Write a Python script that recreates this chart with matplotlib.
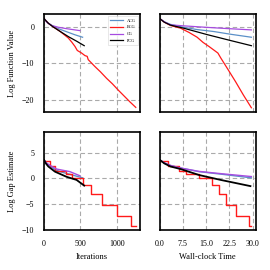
import matplotlib
matplotlib.use("Agg")
import matplotlib.pyplot as plt

plt.rcParams['font.family'] = ['Liberation Serif', 'DejaVu Serif']
plt.rcParams['mathtext.fontset'] = 'stix'

labels = ['ACG', 'BCG', 'CG', 'PCG']
colors = ['#5b90c8', '#ff1a1a', '#a64be0', 'black']

# log function value vs iterations
f_iter_x = {
    'ACG': [0, 30, 60, 120, 200, 310, 420, 530],
    'BCG': [0, 30, 60, 120, 220, 333, 380, 425, 457, 516, 562, 593, 607, 700, 774, 860, 940, 1020, 1100, 1180, 1260],
    'CG': [0, 25, 50, 105, 200, 320, 493],
    'PCG': [0, 30, 60, 120, 220, 340, 450, 552],
}
f_iter_y = {
    'ACG': [2.2, 1.6, 0.9, 0.2, -0.6, -1.4, -2.2, -2.9],
    'BCG': [2.2, 1.5, 0.9, 0.0, -1.3, -3.1, -4.2, -5.4, -6.5, -7.2, -7.9, -8.1, -9.0, -10.9, -12.3, -14.1, -15.6, -17.3, -18.9, -20.5, -22.0],
    'CG': [2.2, 1.5, 1.0, 0.3, -0.2, -0.6, -1.1],
    'PCG': [2.2, 1.5, 0.9, 0.0, -1.3, -2.8, -4.0, -5.2],
}

# log function value vs wall-clock time
f_time_x = {
    'ACG': [0, 1.5, 3.5, 7.8, 12.0, 17.5, 23.0, 29.6],
    'BCG': [0, 1.5, 3.5, 6.8, 9.5, 12.1, 14.0, 15.9, 18.8, 19.7, 22.0, 24.5, 27.0, 29.6],
    'CG': [0, 1.5, 3.5, 7.8, 15.0, 22.0, 29.6],
    'PCG': [0, 1.5, 3.5, 7.8, 11.5, 15.4, 22.9, 29.6],
}
f_time_y = {
    'ACG': [2.2, 1.3, 0.6, -0.2, -0.8, -1.35, -2.1, -2.9],
    'BCG': [2.2, 1.2, 0.3, -0.45, -1.6, -2.9, -4.3, -5.4, -7.2, -8.5, -11.6, -15.0, -18.6, -22.1],
    'CG': [2.2, 1.3, 0.46, 0.2, -0.2, -0.55, -0.9],
    'PCG': [2.2, 1.2, 0.4, -0.45, -1.3, -2.2, -3.8, -5.2],
}

# log gap estimate vs iterations
g_iter_x = {
    'ACG': [0, 30, 82, 150, 219, 350, 530],
    'CG': [0, 30, 82, 174, 356, 493],
    'PCG': [0, 25, 59, 150, 310, 447, 552],
}
g_iter_y = {
    'ACG': [3.6, 3.0, 2.4, 1.7, 1.3, 0.8, 0.1],
    'CG': [3.6, 3.0, 2.5, 1.8, 1.3, 0.5],
    'PCG': [3.6, 2.9, 2.3, 1.3, 0.3, -0.3, -1.4],
}
# BCG gap is a step function
bcg_steps_iter = [0, 80, 150, 300, 380, 530, 640, 800, 1000, 1190, 1260]
bcg_steps_time = [0, 2.6, 6.2, 8.4, 12.7, 17.0, 19.1, 21.3, 24.8, 28.8, 29.6]
bcg_steps_gap = [3.4, 2.3, 1.5, 0.8, 0.0, -1.2, -3.1, -5.1, -7.2, -9.2, -9.2]

# log gap estimate vs wall-clock time
g_time_x = {
    'ACG': [0, 1.5, 3.5, 6.8, 12.7, 20.0, 29.6],
    'CG': [0, 1.5, 3.5, 6.8, 12.7, 20.0, 29.6],
    'PCG': [0, 1.5, 3.5, 6.8, 12.7, 19.7, 29.3],
}
g_time_y = {
    'ACG': [3.6, 3.0, 2.5, 2.0, 1.3, 0.8, 0.1],
    'CG': [3.6, 3.0, 2.5, 2.0, 1.35, 0.9, 0.35],
    'PCG': [3.6, 2.9, 2.3, 1.8, 0.65, -0.3, -1.5],
}

fig, axes = plt.subplots(2, 2, figsize=(2.7, 2.7), dpi=100, sharex='col', sharey='row')
fig.subplots_adjust(left=0.163, right=0.948, bottom=0.148, top=0.948, wspace=0.2, hspace=0.2)

ax_fi, ax_ft = axes[0]
ax_gi, ax_gt = axes[1]

for lab, col in zip(labels, colors):
    ax_fi.plot(f_iter_x[lab], f_iter_y[lab], color=col, lw=0.9, label=lab)
    ax_ft.plot(f_time_x[lab], f_time_y[lab], color=col, lw=0.9)

for lab, col in zip(labels, colors):
    if lab == 'BCG':
        ax_gi.step(bcg_steps_iter, bcg_steps_gap, where='post', color=col, lw=1.0)
        ax_gt.step(bcg_steps_time, bcg_steps_gap, where='post', color=col, lw=1.0)
    else:
        lw = 1.3 if lab == 'PCG' else 1.0
        ax_gi.plot(g_iter_x[lab], g_iter_y[lab], color=col, lw=lw)
        ax_gt.plot(g_time_x[lab], g_time_y[lab], color=col, lw=lw)

ax_fi.set_xlim(left=0)
ax_ft.set_xlim(left=0)
ax_fi.set_xticks([0, 500, 1000])
ax_ft.set_xticks([0.0, 7.5, 15.0, 22.5, 30.0])
ax_ft.set_xticklabels(['0.0', '7.5', '15.0', '22.5', '30.0'])
ax_fi.set_yticks([0, -10, -20])
ax_gi.set_yticks([5, 0, -5, -10])
ax_gi.set_ylim(-10, 9)

for ax in axes.flat:
    ax.grid(True, color='#aaaaaa', ls=(0, (4, 2.5)), lw=0.8)
    ax.tick_params(length=0, labelsize=5.8, pad=7)
    for sp in ax.spines.values():
        sp.set_linewidth(1.2)
        sp.set_color('black')

ax_fi.set_ylabel('Log Function Value', fontsize=6)
ax_gi.set_ylabel('Log Gap Estimate', fontsize=6)
ax_gi.set_xlabel('Iterations', fontsize=6)
ax_gt.set_xlabel('Wall-clock Time', fontsize=6)

leg = ax_fi.legend(loc='upper right', fontsize=3.2, handlelength=3, frameon=True,
                   borderpad=0.5, labelspacing=0.6, fancybox=False)
leg.get_frame().set_linewidth(0.4)
leg.get_frame().set_edgecolor('#cccccc')

fig.savefig('out.png', dpi=100)
